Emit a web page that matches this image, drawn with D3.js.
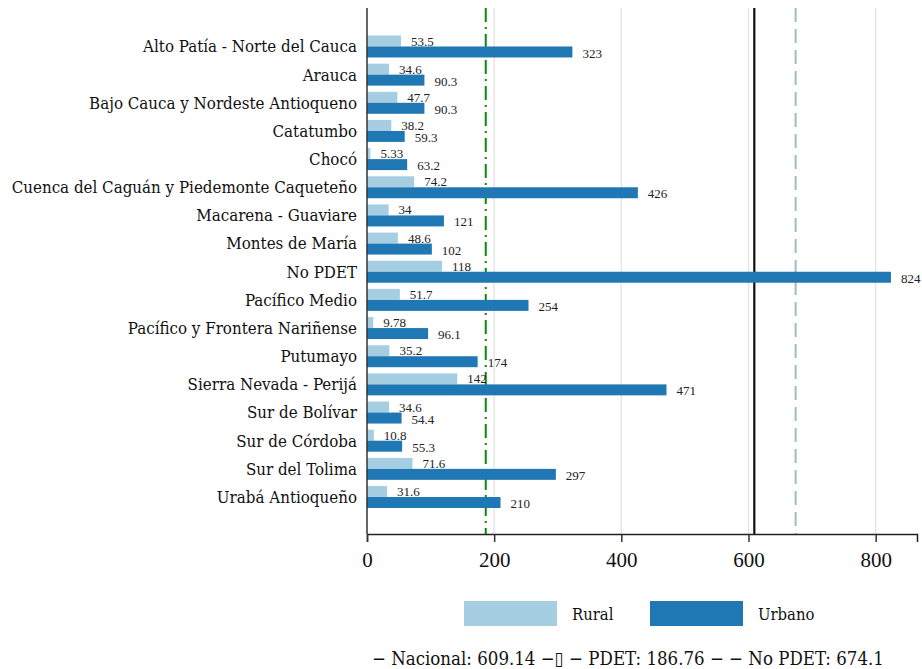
<!DOCTYPE html>
<html><head><meta charset="utf-8">
<script src="https://cdn.jsdelivr.net/npm/d3@7"></script>
<style>body{margin:0;background:#fff}svg{display:block}</style>
</head><body>
<svg id="c" width="922" height="669"></svg>
<script>
const categories = ["Alto Patía - Norte del Cauca","Arauca","Bajo Cauca y Nordeste Antioqueno","Catatumbo","Chocó","Cuenca del Caguán y Piedemonte Caqueteño","Macarena - Guaviare","Montes de María","No PDET","Pacífico Medio","Pacífico y Frontera Nariñense","Putumayo","Sierra Nevada - Perijá","Sur de Bolívar","Sur de Córdoba","Sur del Tolima","Urabá Antioqueño"];
const rural = [53.5,34.6,47.7,38.2,5.33,74.2,34,48.6,118,51.7,9.78,35.2,142,34.6,10.8,71.6,31.6];
const urbano = [323,90.3,90.3,59.3,63.2,426,121,102,824,254,96.1,174,471,54.4,55.3,297,210];
const ruralLabels = ["53.5","34.6","47.7","38.2","5.33","74.2","34","48.6","118","51.7","9.78","35.2","142","34.6","10.8","71.6","31.6"];
const urbanoLabels = ["323","90.3","90.3","59.3","63.2","426","121","102","824","254","96.1","174","471","54.4","55.3","297","210"];
const xTicks = [0,200,400,600,800];
const refLines = [
  {name:"Nacional", value:609.14},
  {name:"PDET", value:186.76},
  {name:"No PDET", value:674.1}
];
const legendNames = ["Rural","Urbano"];
const footerText = "− Nacional: 609.14 −▯ − PDET: 186.76 − − No PDET: 674.1";

(function(){
const FD = "'Liberation Serif', serif";
const FL = "'DejaVu Serif Condensed', 'DejaVu Serif', serif";
const svg = d3.select("#c");
const L = 367, R = 917, T = 8, B = 534;
const x = d3.scaleLinear().domain([0,865]).range([L,R]);
const y = d3.scaleBand().domain(categories).range([32.4,511.1]).paddingInner(0.22).paddingOuter(0.11);
const bh = y.bandwidth()/2;

svg.append("g").selectAll("line").data(xTicks.filter(d=>d>0)).join("line")
  .attr("x1",d=>x(d)).attr("x2",d=>x(d)).attr("y1",T).attr("y2",B)
  .attr("stroke","#e6e6e6").attr("stroke-width",1.5);

const styles = {
  "Nacional": {stroke:"#111", w:2.2, dash:null},
  "PDET": {stroke:"#0a8a0a", w:2, dash:"14,5,2,5"},
  "No PDET": {stroke:"#9dbfb6", w:2, dash:"14,7"}
};
svg.append("g").selectAll("line").data(refLines).join("line")
  .attr("x1",d=>x(d.value)).attr("x2",d=>x(d.value)).attr("y1",T).attr("y2",B)
  .attr("stroke",d=>styles[d.name].stroke).attr("stroke-width",d=>styles[d.name].w)
  .attr("stroke-dasharray",d=>styles[d.name].dash);

const g = svg.append("g");
g.selectAll("rect.r").data(categories).join("rect").attr("class","r")
  .attr("x",x(0)).attr("y",d=>y(d)).attr("height",bh)
  .attr("width",(d,i)=>x(rural[i])-x(0)).attr("fill","#a6cee3");
g.selectAll("rect.u").data(categories).join("rect").attr("class","u")
  .attr("x",x(0)).attr("y",d=>y(d)+bh).attr("height",bh)
  .attr("width",(d,i)=>x(urbano[i])-x(0)).attr("fill","#1f78b4");

g.selectAll("text.rl").data(categories).join("text").attr("class","rl")
  .attr("x",(d,i)=>x(rural[i])+10).attr("y",d=>y(d)+bh/2).attr("dy","0.35em")
  .style("font-family",FD).attr("fill","#222")
  .style("font-size","13px").text((d,i)=>ruralLabels[i]);
g.selectAll("text.ul").data(categories).join("text").attr("class","ul")
  .attr("x",(d,i)=>x(urbano[i])+10).attr("y",d=>y(d)+bh*1.5+1).attr("dy","0.35em")
  .style("font-family",FD).attr("fill","#222")
  .style("font-size","13px").text((d,i)=>urbanoLabels[i]);

svg.append("g").selectAll("text").data(categories).join("text")
  .attr("x",357).attr("y",d=>y(d)+bh).attr("dy","0.35em").attr("text-anchor","end")
  .style("font-family",FL).style("font-stretch","condensed").attr("fill","#111")
  .style("font-size","16.8px").text(d=>d);

svg.append("line").attr("x1",L).attr("x2",L).attr("y1",T).attr("y2",B)
  .attr("stroke","#333").attr("stroke-width",1.5);

const ax = svg.append("g").attr("transform",`translate(0,${B})`)
  .call(d3.axisBottom(x).tickValues(xTicks).tickSize(8).tickPadding(10));
ax.attr("font-family",null);
ax.select(".domain").attr("stroke","#222").attr("stroke-width",1.5);
ax.selectAll(".tick line").attr("stroke","#333").attr("stroke-width",1.5);
ax.selectAll(".tick text").style("font-size","21px").style("font-family",FD).attr("fill","#111");

const leg = svg.append("g");
const legColors = ["#a6cee3","#1f78b4"];
const legX = [464,650];
legendNames.forEach((n,i)=>{
  leg.append("rect").attr("x",legX[i]).attr("y",601).attr("width",93).attr("height",25).attr("fill",legColors[i]);
  leg.append("text").attr("x",legX[i]+108).attr("y",614).attr("dy","0.35em")
    .style("font-family",FL).style("font-stretch","condensed").attr("fill","#111").style("font-size","16.5px").text(n);
});
svg.append("text").attr("x",372).attr("y",665).style("font-family",FL).style("font-stretch","condensed").attr("fill","#111")
  .style("font-size","18.5px").text(footerText);
})();
</script>
</body></html>
